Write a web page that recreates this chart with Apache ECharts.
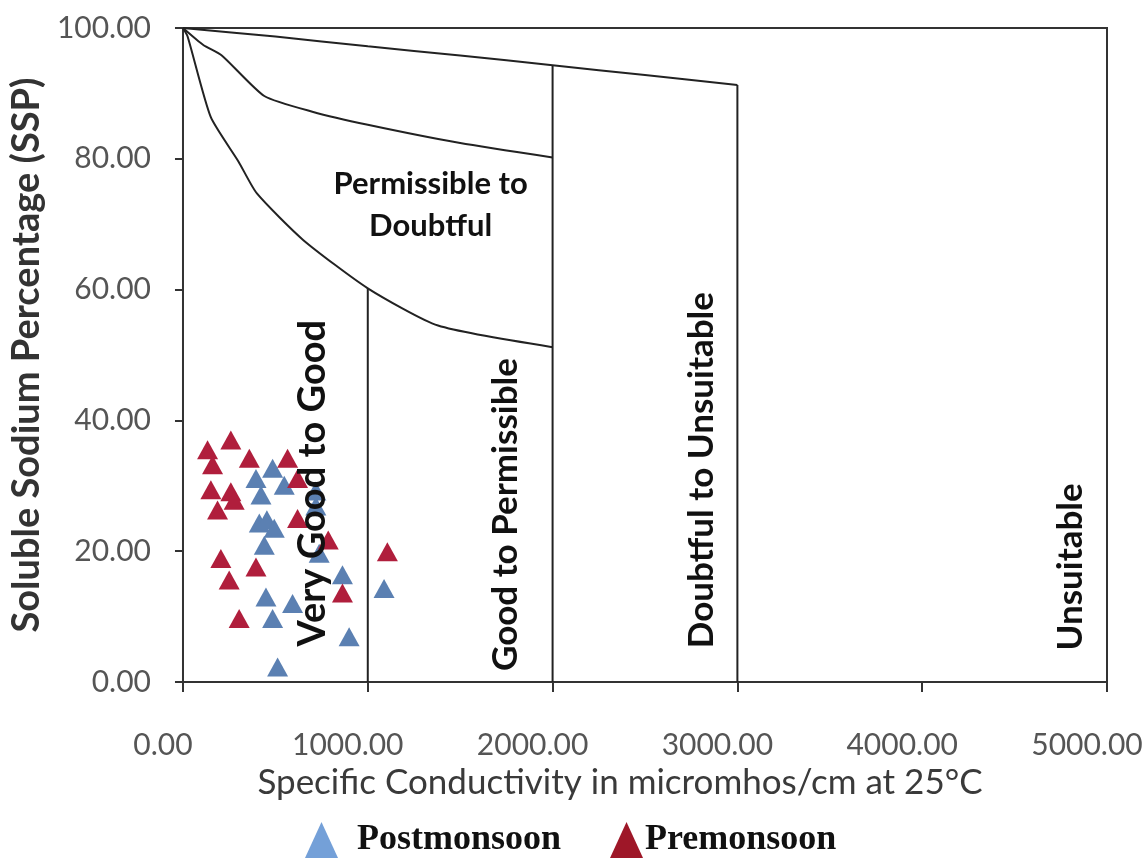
<!DOCTYPE html>
<html>
<head>
<meta charset="utf-8">
<script src="https://cdn.jsdelivr.net/npm/echarts@6/dist/echarts.min.js"></script>
<style>
  html, body { margin: 0; padding: 0; background: #fff; }
  #chart { width: 1146px; height: 864px; }
</style>
</head>
<body>
<div id="chart"></div>
<script>
// sample points [conductivity, SSP]
const postmonsoon = [
  [485, 32.7], [395, 31.1], [548, 30.1], [422, 28.6], [719, 29.2], [719, 26.9],
  [413, 24.3], [454, 24.8], [494, 23.5], [440, 20.9], [737, 19.7], [863, 16.4],
  [1088, 14.3], [449, 13.0], [593, 12.0], [485, 9.7], [899, 6.9], [512, 2.3]
]
const premonsoon = [
  [133, 35.5], [259, 37.0], [160, 33.2], [359, 34.2], [566, 34.2], [620, 31.1],
  [151, 29.4], [259, 29.1], [277, 27.8], [187, 26.3], [620, 25.0], [786, 21.7],
  [205, 18.9], [395, 17.6], [250, 15.6], [1106, 19.9], [863, 13.6], [304, 9.7]
]

// classification boundaries
const upperCurve = [[0, 100], [500, 98.7], [1000, 97.2], [1500, 95.8], [2000, 94.3], [2500, 92.8], [3000, 91.3]]
const middleCurve = [[0, 100], [110, 97.4], [210, 95.8], [440, 89.6], [700, 87.2], [1000, 85.2], [1500, 82.4], [2000, 80.2]]
const lowerCurve = [[0, 100], [25, 98.7], [150, 86.4], [300, 79.6], [400, 74.7], [650, 67.6], [1000, 60.2], [1380, 54.5], [2000, 51.2]]
const dividers = [
  [[1000, 0], [1000, 60.2]],
  [[2000, 0], [2000, 94.3]],
  [[3000, 0], [3000, 91.3]]
]

// zone labels [x, y, text, rotate, size]
const zoneLabels = [
  [1340, 72.9, 'Permissible to\nDoubtful', 0, 31],
  [703, 30.4, 'Very Good to Good', 90, 38],
  [1746, 25.6, 'Good to Permissible', 90, 35],
  [2805, 32.4, 'Doubtful to Unsuitable', 90, 35],
  [4805, 17.6, 'Unsuitable', 90, 35]
]

const lineStyle = { color: '#222', width: 2 }

const lineSeries = [upperCurve, middleCurve, lowerCurve].map((d) => ({
  type: 'line',
  data: d,
  smooth: 0.2,
  symbol: 'none',
  lineStyle: lineStyle,
  silent: true,
  z: 3
}))

const dividerSeries = dividers.map((d) => ({
  type: 'line',
  data: d,
  symbol: 'none',
  lineStyle: lineStyle,
  silent: true,
  z: 3
}))

const chart = echarts.init(document.getElementById('chart'))

const option = {
  animation: false,
  backgroundColor: '#fff',
  grid: {
    left: 182,
    right: 39,
    top: 28,
    bottom: 182,
    show: true,
    borderColor: '#333',
    borderWidth: 2
  },
  legend: {
    left: 300,
    top: 817,
    icon: 'triangle',
    itemWidth: 33,
    itemHeight: 36,
    itemGap: 49,
    textStyle: {
      fontFamily: 'Liberation Serif',
      fontWeight: 'bold',
      fontSize: 36,
      color: '#111'
    },
    data: [
      { name: 'Postmonsoon', itemStyle: { color: '#74A0D8', opacity: 1 }, textStyle: { padding: [0, 0, 0, 14] } },
      { name: 'Premonsoon', itemStyle: { color: '#9E1728', opacity: 1 }, textStyle: { padding: [0, 0, 0, -3] } }
    ]
  },
  xAxis: {
    type: 'value',
    min: 0,
    max: 5000,
    interval: 1000,
    name: 'Specific Conductivity in micromhos/cm at 25°C',
    nameLocation: 'middle',
    nameGap: 82,
    nameTextStyle: {
      fontFamily: 'Lato',
      fontSize: 35,
      color: '#3a3a3a',
      padding: [0, 50, 0, 0]
    },
    axisLine: { lineStyle: { color: '#333', width: 2 } },
    axisTick: { show: true, inside: false, length: 10, lineStyle: { color: '#333', width: 2 } },
    axisLabel: {
      margin: 48,
      fontFamily: 'Lato',
      fontSize: 30,
      color: '#555',
      padding: [0, 40, 0, 0],
      formatter: (v) => v.toFixed(2)
    },
    splitLine: { show: false }
  },
  yAxis: {
    type: 'value',
    min: 0,
    max: 100,
    interval: 20,
    name: 'Soluble Sodium Percentage (SSP)',
    nameLocation: 'middle',
    nameGap: 132,
    nameTextStyle: {
      fontFamily: 'Lato',
      fontWeight: 'bold',
      fontSize: 38,
      color: '#333'
    },
    axisLine: { lineStyle: { color: '#333', width: 2 } },
    axisTick: { show: true, inside: false, length: 8, lineStyle: { color: '#333', width: 2 } },
    axisLabel: {
      margin: 32,
      fontFamily: 'Lato',
      fontSize: 30,
      color: '#555',
      formatter: (v) => v.toFixed(2)
    },
    splitLine: { show: false }
  },
  series: [
    ...lineSeries,
    ...dividerSeries,
    {
      name: 'Postmonsoon',
      type: 'scatter',
      symbol: 'triangle',
      symbolSize: [21, 19],
      itemStyle: { color: '#5B80B2', opacity: 1 },
      data: postmonsoon,
      z: 4
    },
    {
      name: 'Premonsoon',
      type: 'scatter',
      symbol: 'triangle',
      symbolSize: [21, 19],
      itemStyle: { color: '#B01E3C', opacity: 1 },
      data: premonsoon,
      z: 4
    },
    {
      type: 'scatter',
      symbolSize: 0,
      silent: true,
      z: 6,
      itemStyle: { opacity: 1 },
      data: zoneLabels.map((d) => ({
        value: [d[0], d[1]],
        label: {
          show: true,
          position: 'inside',
          formatter: d[2],
          rotate: d[3],
          fontFamily: 'Lato',
          fontWeight: 'bold',
          fontSize: d[4],
          lineHeight: 42,
          color: '#111',
          align: 'center',
          verticalAlign: 'middle'
        }
      })),
      labelLayout: { hideOverlap: false }
    }
  ]
}

chart.setOption(option)
window.addEventListener('resize', () => chart.resize())
</script>
</body>
</html>
